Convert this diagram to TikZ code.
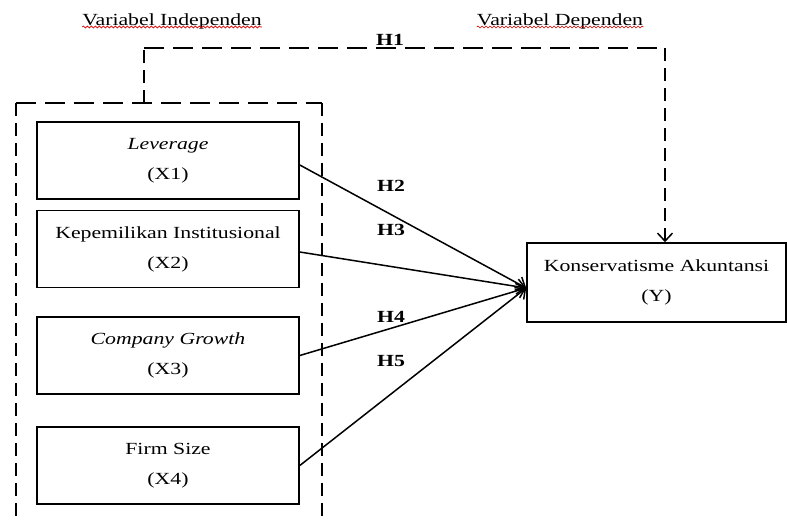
\documentclass[tikz,border=0pt]{standalone}
\usepackage{fontspec}
\setmainfont[FakeStretch=1.28]{Liberation Serif}
\usetikzlibrary{arrows.meta,decorations.pathmorphing}

\begin{document}
\begin{tikzpicture}[x=1pt,y=-1pt,
    font=\fontsize{17}{30}\selectfont,
    varbox/.style={draw,line width=1.6pt,minimum width=262pt,minimum height=77pt,align=center,inner sep=0pt},
    hdash/.style={line width=1.7pt,dash pattern=on 20pt off 9pt},
    vdash/.style={line width=1.7pt,dash pattern=on 13pt off 7pt},
    arr/.style={line width=1.5pt,-{Straight Barb[length=8pt,width=15pt,line width=1.5pt]}},
    hlabel/.style={font=\fontsize{17}{20}\selectfont\bfseries},
    squiggle/.style={red!85!black,line width=0.6pt,decorate,decoration={snake,amplitude=1pt,segment length=4pt}}]

        \useasboundingbox (0,0) rectangle (787,522);

        % Headings
        \node[anchor=base,inner sep=0pt] (indeplabel) at (172,25) {Variabel Independen};
        \node[anchor=base,inner sep=0pt] (deplabel) at (560,25) {Variabel Dependen};
        \draw[squiggle] ([yshift=-2pt]indeplabel.base west) -- ([yshift=-2pt]indeplabel.base east);
        \draw[squiggle] ([yshift=-2pt]deplabel.base west) -- ([yshift=-2pt]deplabel.base east);

        % Independent variables
        \node[varbox] (lev) at (168,160.5) {\textit{Leverage}\\(X1)};
        \node[varbox] (kep) at (168,249) {Kepemilikan Institusional\\(X2)};
        \node[varbox] (growth) at (168,355.5) {\textit{Company Growth}\\(X3)};
        \node[varbox] (size) at (168,465.5) {Firm Size\\(X4)};

        % Dependent variable
        \node[varbox,minimum width=259pt,minimum height=79pt] (kons) at (656.5,282.5) {Konservatisme Akuntansi\\(Y)};

        % Dashed group around the independent variables
        \coordinate (gtl) at (16,103);
        \coordinate (gtr) at (322,103);
        \coordinate (gbl) at (16,522);
        \coordinate (gbr) at (322,522);
        \draw[hdash] (gtl) -- (gtr);
        \draw[vdash] (gtl) -- (gbl);
        \draw[vdash] (gtr) -- (gbr);

        % H1 from the group to Y
        \coordinate (h1start) at (144,103);
        \coordinate (h1up) at (144,48);
        \coordinate (h1right) at (665,48);
        \draw[vdash] (h1start) -- (h1up);
        \draw[hdash] (h1up) -- (h1right);
        \draw[vdash,arr,line width=1.7pt] (h1right) -- ([xshift=8.5pt]kons.north);
        \node[hlabel] (h1) at (390,40) {H1};

        % H2 - H5
        \coordinate (target) at ([yshift=-5.5pt]kons.west);
        \draw[arr] ([yshift=-4.5pt]lev.east) -- (target);
        \draw[arr] ([yshift=-3pt]kep.east) -- (target);
        \draw[arr] (growth.east) -- (target);
        \draw[arr] (size.east) -- (target);
        \node[hlabel] (h2) at (391,186) {H2};
        \node[hlabel] (h3) at (391,230) {H3};
        \node[hlabel] (h4) at (391,317) {H4};
        \node[hlabel] (h5) at (391,361) {H5};
    \end{tikzpicture}
\end{document}
